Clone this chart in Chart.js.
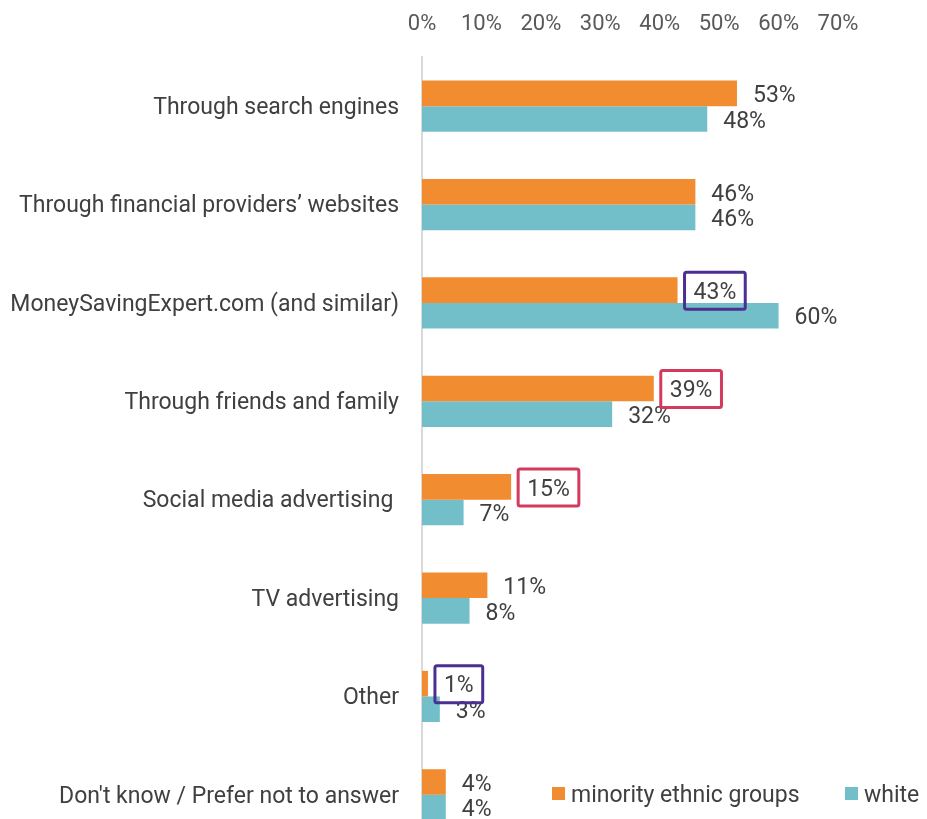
<!DOCTYPE html>
<html>
<head>
<meta charset="utf-8">
<script src="https://cdn.jsdelivr.net/npm/chart.js@4/dist/chart.umd.min.js"></script>
<style>
  html, body { margin: 0; padding: 0; background: #fff; overflow: hidden; }
  #frame { width: 927px; height: 819px; overflow: hidden; position: relative; }
  canvas { display: block; }
</style>
</head>
<body>
<div id="frame"><canvas id="sources" width="927" height="845"></canvas></div>
<script>
const categories = [
  "Through search engines",
  "Through financial providers’ websites",
  "MoneySavingExpert.com (and similar)",
  "Through friends and family",
  "Social media advertising ",
  "TV advertising",
  "Other",
  "Don't know / Prefer not to answer"
];
const minorityValues = [53, 46, 43, 39, 15, 11, 1, 4];
const whiteValues = [48, 46, 60, 32, 7, 8, 3, 4];
const xTicks = [0, 10, 20, 30, 40, 50, 60, 70];

// labels of the minority series that get a frame round them
const boxedIndex = [2, 3, 4, 6];
const boxedColor = ["#4b2f91", "#d23a5e", "#d23a5e", "#4b2f91"];

const FONT = "Roboto, 'Open Sans', sans-serif";

const valueLabels = {
  id: "valueLabels",
  afterDatasetsDraw(chart) {
    const ctx = chart.ctx;
    ctx.save();
    ctx.font = "23px " + FONT;
    ctx.fillStyle = "#404040";
    ctx.textAlign = "left";
    ctx.textBaseline = "middle";
    chart.data.datasets.forEach(function (ds, di) {
      chart.getDatasetMeta(di).data.forEach(function (bar, i) {
        ctx.fillText(ds.data[i] + "%", bar.x + 16, bar.y + 3);
      });
    });
    // frames drawn last so they sit over neighbouring text
    const meta = chart.getDatasetMeta(0);
    boxedIndex.forEach(function (idx, k) {
      const bar = meta.data[idx];
      const txt = chart.data.datasets[0].data[idx] + "%";
      const w = ctx.measureText(txt).width;
      const x = bar.x + 7, y = bar.y - 18;
      ctx.strokeStyle = boxedColor[k];
      ctx.lineWidth = 3;
      ctx.beginPath();
      if (ctx.roundRect) ctx.roundRect(x, y, w + 18, 37, 2);
      else ctx.rect(x, y, w + 18, 37);
      ctx.stroke();
    });
    ctx.restore();
  }
};

const bottomLegend = {
  id: "bottomLegend",
  afterDraw(chart) {
    const ctx = chart.ctx;
    const spots = [552, 845];
    ctx.save();
    ctx.font = "23px " + FONT;
    ctx.textAlign = "left";
    ctx.textBaseline = "middle";
    chart.data.datasets.forEach(function (ds, di) {
      const x = spots[di];
      ctx.fillStyle = ds.backgroundColor;
      ctx.fillRect(x, 787, 13, 13);
      ctx.fillStyle = "#404040";
      ctx.fillText(ds.label, x + 19, 796);
    });
    ctx.restore();
  }
};

new Chart(document.getElementById("sources").getContext("2d"), {
  type: "bar",
  data: {
    labels: categories,
    datasets: [
      { label: "minority ethnic groups", data: minorityValues, backgroundColor: "#f28c30" },
      { label: "white", data: whiteValues, backgroundColor: "#72bfc9" }
    ]
  },
  options: {
    indexAxis: "y",
    responsive: false,
    animation: false,
    layout: { padding: { top: 0, right: 89, bottom: 1, left: 0 } },
    datasets: { bar: { categoryPercentage: 0.52, barPercentage: 1 } },
    plugins: {
      legend: { display: false },
      tooltip: { enabled: false }
    },
    scales: {
      x: {
        position: "top",
        min: 0,
        max: 70,
        afterBuildTicks: function (s) { s.ticks = xTicks.map(v => ({ value: v })); },
        afterFit: function (s) { s.height = 57; },
        grid: { display: false, drawTicks: false },
        border: { display: false },
        ticks: {
          padding: 19,
          color: "#595959",
          font: { family: FONT, size: 22 },
          callback: v => v + "%"
        }
      },
      y: {
        // fixed width, and no extra room above/below the first and last rows
        afterFit: function (s) {
          s.width = 422;
          s.paddingTop = 0;
          s.paddingBottom = 0;
        },
        grid: { display: false, drawTicks: false },
        border: { display: true, color: "#d9d9d9", width: 2 },
        ticks: {
          padding: 23,
          labelOffset: 2,
          color: "#404040",
          font: { family: FONT, size: 23 }
        }
      }
    }
  },
  plugins: [valueLabels, bottomLegend]
});
</script>
</body>
</html>
